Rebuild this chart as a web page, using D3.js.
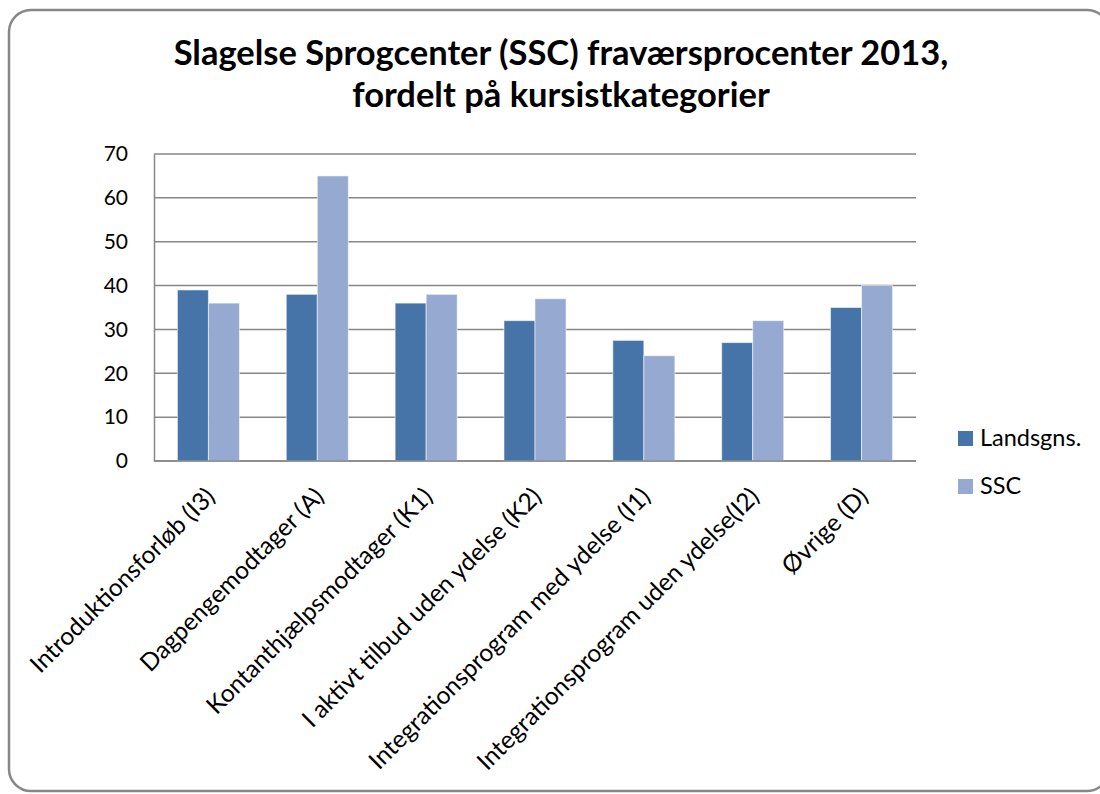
<!DOCTYPE html>
<html>
<head>
<meta charset="utf-8">
<script src="https://cdn.jsdelivr.net/npm/d3@7"></script>
<style>
  body { margin: 0; background: #fff; }
  svg { font-family: Lato, "Open Sans", sans-serif; }
</style>
</head>
<body>
<svg id="chart" width="1100" height="794"></svg>
<script>
// data
var categories = ['Introduktionsforløb (I3)', 'Dagpengemodtager (A)', 'Kontanthjælpsmodtager (K1)',
                  'I aktivt tilbud uden ydelse (K2)', 'Integrationsprogram med ydelse (I1)',
                  'Integrationsprogram uden ydelse(I2)', 'Øvrige (D)'];
var seriesNames = ['Landsgns.', 'SSC'];
var landsgns = [39, 38, 36, 32, 27.5, 27, 35];
var ssc = [36, 65, 38, 37, 24, 32, 40];
var yTicks = [0, 10, 20, 30, 40, 50, 60, 70];
var titleLines = ['Slagelse Sprogcenter (SSC) fraværsprocenter 2013,', 'fordelt på kursistkategorier'];

var colours = { 'Landsgns.': '#4674a8', 'SSC': '#95a9d1' };

var rows = categories.map(function(c, i) {
  return { cat: c, 'Landsgns.': landsgns[i], 'SSC': ssc[i] };
});

var svg = d3.select('#chart');
var plot = { left: 154, top: 154, right: 916, bottom: 461 };

// outer frame
svg.append('rect')
  .attr('x', 9).attr('y', 10)
  .attr('width', 1100).attr('height', 781)
  .attr('rx', 22).attr('ry', 22)
  .attr('fill', '#fff')
  .attr('stroke', '#878787')
  .attr('stroke-width', 2.5);

// title
svg.append('text')
  .attr('text-anchor', 'middle')
  .attr('font-weight', 'bold')
  .attr('font-size', 34.5)
  .selectAll('tspan')
  .data(titleLines)
  .enter().append('tspan')
    .attr('x', 561)
    .attr('y', function(d, i) { return 65 + i * 42; })
    .text(function(d) { return d; });

var y = d3.scaleLinear().domain([0, 70]).range([plot.bottom, plot.top]);

var x0 = d3.scaleBand()
  .domain(categories)
  .range([plot.left, plot.right])
  .paddingInner(0.43)
  .paddingOuter(0.215);

var x1 = d3.scaleBand()
  .domain(seriesNames)
  .range([0, x0.bandwidth()]);

// gridlines
svg.append('g')
  .selectAll('line')
  .data(yTicks)
  .enter().append('line')
    .attr('x1', plot.left).attr('x2', plot.right)
    .attr('y1', function(d) { return y(d); })
    .attr('y2', function(d) { return y(d); })
    .attr('stroke', '#878787')
    .attr('stroke-width', 1.5);

// y axis
var yAxis = svg.append('g')
  .attr('transform', 'translate(' + plot.left + ',0)')
  .call(d3.axisLeft(y).tickValues(yTicks).tickSize(0).tickPadding(26));
yAxis.select('.domain').attr('stroke', '#878787').attr('stroke-width', 1.5);
yAxis.selectAll('text')
  .attr('font-size', 21)
  .attr('fill', '#000')
  .attr('font-family', 'Lato, sans-serif');

// bars
svg.append('g')
  .selectAll('g')
  .data(rows)
  .enter().append('g')
    .attr('transform', function(d) { return 'translate(' + x0(d.cat) + ',0)'; })
  .selectAll('rect')
  .data(function(d) { return seriesNames.map(function(s) { return { key: s, value: d[s] }; }); })
  .enter().append('rect')
    .attr('x', function(d) { return x1(d.key); })
    .attr('y', function(d) { return y(d.value); })
    .attr('width', x1.bandwidth())
    .attr('height', function(d) { return plot.bottom - y(d.value); })
    .attr('fill', function(d) { return colours[d.key]; })
    .attr('stroke', 'rgba(255,255,255,0.55)')
    .attr('stroke-width', 1);

// x axis line on top of bars
svg.append('line')
  .attr('x1', plot.left).attr('x2', plot.right)
  .attr('y1', plot.bottom).attr('y2', plot.bottom)
  .attr('stroke', '#878787').attr('stroke-width', 1.5);

// category labels
svg.append('g')
  .selectAll('text')
  .data(categories)
  .enter().append('text')
    .attr('transform', function(d) {
      var cx = x0(d) + x0.bandwidth() / 2 + 8;
      return 'translate(' + cx + ',498) rotate(-45)';
    })
    .attr('text-anchor', 'end')
    .attr('font-size', 24.5)
    .text(function(d) { return d; });

// legend
var legend = svg.append('g')
  .selectAll('g')
  .data(seriesNames)
  .enter().append('g')
    .attr('transform', function(d, i) { return 'translate(958,' + (431 + i * 48) + ')'; });
legend.append('rect')
  .attr('width', 15).attr('height', 15)
  .attr('fill', function(d) { return colours[d]; });
legend.append('text')
  .attr('x', 22).attr('y', 15)
  .attr('font-size', 23.5)
  .text(function(d) { return d; });
</script>
</body>
</html>
